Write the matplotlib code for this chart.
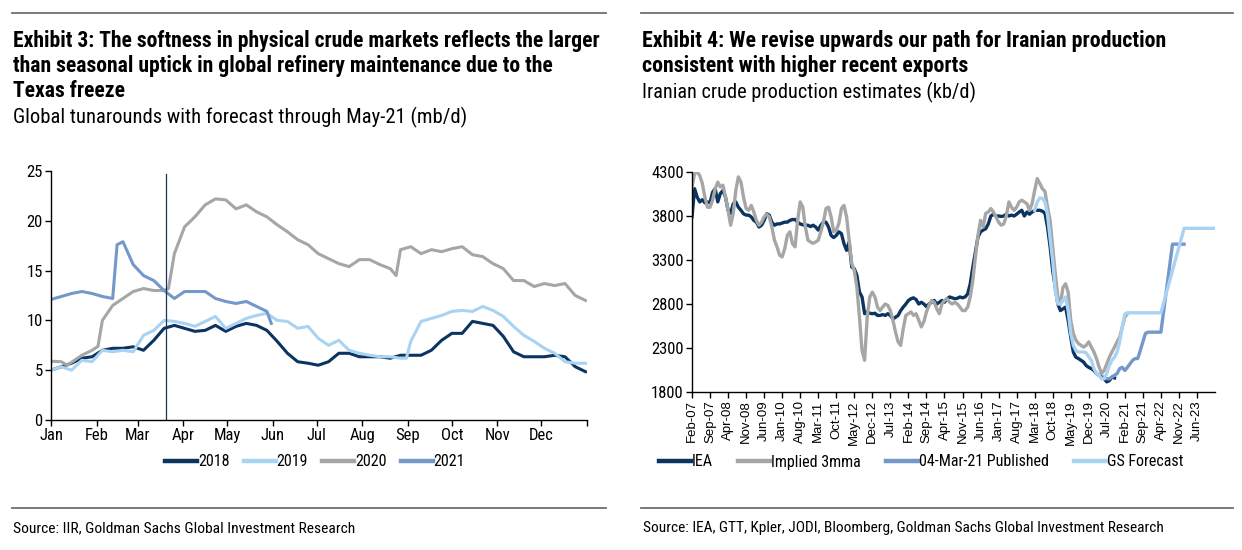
import matplotlib
matplotlib.use("Agg")
import matplotlib.pyplot as plt
from matplotlib.lines import Line2D
from matplotlib import font_manager as fm

# pick an installed condensed sans font
_avail = {}
for f in fm.fontManager.ttflist:
    _avail.setdefault(f.name, set()).add(f.weight if isinstance(f.weight, int) else 400)
_prefs = ['Liberation Sans Narrow', 'Arial Narrow', 'Roboto Condensed', 'Archivo Narrow',
          'PT Sans Narrow', 'Fira Sans Condensed', 'IBM Plex Sans Condensed', 'Asap Condensed',
          'Open Sans Condensed', 'Barlow Semi Condensed', 'Liberation Sans']
NARROW_NAME = 'Liberation Sans'
for p in _prefs:
    if p in _avail:
        NARROW_NAME = p
        break
NARROW = [NARROW_NAME, 'DejaVu Sans']
ARIAL = ['Liberation Sans', 'DejaVu Sans']

# ---------------- Left chart data (day of year, mb/d) ----------------
days_a = [0, 7, 14, 21, 28, 35, 42, 49, 56, 63, 70, 77, 84, 91, 98, 105, 112, 119,
          126, 133, 140, 147, 154, 161, 168, 175, 182, 189, 196, 203, 210, 217, 224,
          231, 238, 245, 252, 259, 266, 273, 280, 287, 294, 301, 308, 315, 322, 329,
          336, 343, 350, 357, 364]
t2018 = [5.0, 5.35, 5.7, 6.2, 6.35, 7.0, 7.2, 7.2, 7.35, 7.0, 8.0, 9.2, 9.5, 9.2, 8.9, 9.0, 9.5, 8.9,
         9.4, 9.7, 9.5, 9.0, 7.9, 6.7, 5.85, 5.7, 5.5, 5.85, 6.7, 6.7, 6.35, 6.35, 6.35,
         6.2, 6.5, 6.5, 6.5, 7.0, 8.0, 8.7, 8.7, 9.9, 9.7, 9.5, 8.4, 6.85, 6.35, 6.35,
         6.35, 6.5, 6.35, 5.35, 4.85]
days_b = [0, 7, 14, 21, 28, 35, 42, 49, 56, 63, 70, 77, 84, 91, 98, 105, 112, 119,
          126, 133, 140, 147, 154, 161, 168, 175, 182, 189, 196, 203, 210, 217, 224,
          231, 238, 242, 245, 252, 259, 266, 273, 280, 287, 294, 301, 308, 315, 322, 329,
          336, 343, 350, 357, 364]
t2019 = [5.0, 5.35, 5.0, 6.0, 5.85, 7.0, 6.85, 7.0, 6.85, 8.5, 9.0, 10.0, 9.9, 9.7, 9.4, 9.9, 10.4, 9.2,
         9.7, 10.2, 10.5, 10.7, 10.0, 9.9, 9.2, 9.4, 8.2, 7.5, 8.0, 7.0, 6.7, 6.5, 6.35,
         6.35, 6.2, 6.2, 7.9, 9.9, 10.2, 10.5, 10.9, 11.0, 10.9, 11.4, 11.0, 10.4, 9.4, 8.5, 7.9,
         7.2, 6.7, 5.85, 5.7, 5.7]
days_c = [0, 7, 11, 21, 28, 32, 35, 42, 49, 56, 63, 70, 77, 80, 84, 91, 98, 105, 112, 119,
          126, 133, 140, 147, 154, 161, 168, 175, 182, 189, 196, 203, 210, 217, 224,
          231, 235, 238, 245, 252, 259, 266, 273, 280, 287, 294, 301, 308, 315, 322, 329,
          336, 343, 350, 357, 364]
t2020 = [5.9, 5.85, 5.5, 6.5, 7.0, 7.4, 10.0, 11.5, 12.2, 12.9, 13.2, 13.0, 13.0, 13.2, 16.7, 19.4, 20.4, 21.6, 22.2, 22.1,
         21.2, 21.6, 20.9, 20.4, 19.6, 18.9, 18.1, 17.6, 16.7, 16.2, 15.7, 15.4, 16.1, 16.1, 15.6,
         15.2, 14.5, 17.1, 17.4, 16.7, 17.1, 16.9, 17.2, 17.4, 16.6, 16.4, 15.7, 15.2, 14.0, 14.0, 13.4,
         13.7, 13.5, 13.7, 12.5, 12.0]
days_d = [0, 7, 14, 21, 28, 35, 42, 45, 49, 56, 63, 70, 77, 84, 91, 98, 105, 112, 119,
          126, 133, 140, 147, 150]
t2021 = [12.1, 12.4, 12.7, 12.9, 12.7, 12.4, 12.2, 17.6, 17.9, 15.6, 14.5, 14.0, 13.0, 12.2, 12.9, 12.9, 12.9, 12.2, 11.9,
         11.7, 11.9, 11.4, 10.9, 9.7]
month_starts = [0, 31, 59, 90, 120, 151, 181, 212, 243, 273, 304, 334, 365]
month_labels = ['Jan', 'Feb', 'Mar', 'Apr', 'May', 'Jun', 'Jul', 'Aug', 'Sep', 'Oct', 'Nov', 'Dec', '']
cut_day = 78

# ---------------- Right chart data (months since Feb-07, kb/d) ----------------
iea = [3790, 4110, 4015, 3960, 3985, 3950, 3960, 3950, 4070, 4110, 3960, 4055, 4090, 4015, 3865, 3830,
       3940, 3960, 3900, 3865, 3825, 3810, 3810, 3790, 3750, 3730, 3675, 3695, 3750, 3825, 3810, 3730,
       3695, 3710, 3710, 3720, 3730, 3730, 3750, 3760, 3760, 3730, 3710, 3700, 3695, 3695, 3680, 3695,
       3675, 3640, 3695, 3730, 3730, 3675, 3580, 3555, 3580, 3620, 3600, 3485, 3410, 3505, 3220, 3200,
       3125, 2935, 2880, 2690, 2710, 2695, 2690, 2695, 2670, 2670, 2680, 2670, 2690, 2670, 2630, 2650,
       2670, 2725, 2765, 2800, 2840, 2860, 2870, 2850, 2800, 2820, 2800, 2770, 2800, 2820, 2840, 2800,
       2820, 2840, 2820, 2860, 2880, 2870, 2860, 2865, 2880, 2870, 2880, 2915, 3030, 3220, 3390, 3560,
       3620, 3640, 3655, 3710, 3800, 3820, 3800, 3800, 3795, 3800, 3820, 3800, 3810, 3800, 3820, 3845,
       3865, 3800, 3845, 3820, 3845, 3865, 3865, 3865, 3855, 3830, 3675, 3450, 3180, 2990, 2800, 2725,
       2745, 2765, 2615, 2425, 2255, 2195, 2180, 2160, 2140, 2100, 2080, 2065, 2045, 2010, 1990, 1970,
       1950, 1915, 1930, 1970, 1960]
implied = [4130, 4280, 4300, 4260, 4170, 4015, 3900, 3900, 3980, 4110, 4185, 4130, 4150, 4015, 3865, 3695,
           3830, 4090, 4245, 4185, 4015, 3885, 3865, 3920, 3845, 3750, 3695, 3730, 3790, 3820, 3790, 3675,
           3525, 3450, 3355, 3335, 3430, 3580, 3620, 3485, 3450, 3750, 3960, 3900, 3675, 3525, 3505, 3490,
           3505, 3525, 3620, 3730, 3885, 3900, 3790, 3620, 3640, 3715, 3885, 3920, 3790, 3525, 3260, 3180,
           2990, 2650, 2270, 2160, 2650, 2880, 2935, 2880, 2765, 2725, 2765, 2800, 2785, 2725, 2615, 2480,
           2370, 2330, 2520, 2670, 2690, 2710, 2670, 2690, 2615, 2540, 2600, 2710, 2785, 2840, 2820, 2745,
           2690, 2800, 2840, 2860, 2820, 2800, 2820, 2800, 2765, 2725, 2725, 2765, 2880, 3070, 3335, 3580,
           3750, 3675, 3830, 3845, 3885, 3845, 3790, 3730, 3695, 3710, 3800, 3960, 3900, 3865, 3900, 3960,
           3980, 3960, 3940, 3865, 3940, 4090, 4225, 4170, 4110, 4080, 3900, 3750, 3450, 3145, 2880, 2800,
           2990, 3030, 2935, 2615, 2465, 2390, 2350, 2330, 2310, 2330, 2370, 2310, 2255, 2180, 2085, 2010,
           2045, 2120, 2195, 2255, 2310, 2370, 2425, 2540, 2650, 2690]
pub_m = [160, 161, 162, 163, 164, 165, 166, 167, 168, 169, 170, 171, 172, 173, 174, 175, 176, 177,
         182, 186.5, 191]
pub_v = [1970, 1950, 1950, 1970, 1990, 2010, 2065, 2080, 2045, 2080, 2120, 2160, 2180, 2180, 2270, 2370,
         2465, 2480, 2480, 3480, 3480]
gs_m = [133, 134, 135, 136, 137, 138, 139, 140, 141, 142, 143, 144, 145, 146, 147, 148, 149, 150, 151,
        152, 153, 154, 155, 156, 157, 158, 159, 160, 161, 162, 163, 164, 165, 166, 167, 168, 169,
        182, 191, 203]
gs_v = [3865, 3960, 4005, 4000, 3960, 3810, 3545, 3290, 2950, 2800, 2800, 2840, 2880, 2725, 2465, 2330,
        2270, 2255, 2255, 2255, 2245, 2200, 2160, 2065, 2010, 1990, 1950, 1950, 2010, 2100, 2160, 2195,
        2255, 2370, 2540, 2685, 2700, 2700, 3660, 3660]
r_tick_labels = ['Feb-07', 'Sep-07', 'Apr-08', 'Nov-08', 'Jun-09', 'Jan-10', 'Aug-10', 'Mar-11',
                 'Oct-11', 'May-12', 'Dec-12', 'Jul-13', 'Feb-14', 'Sep-14', 'Apr-15', 'Nov-15',
                 'Jun-16', 'Jan-17', 'Aug-17', 'Mar-18', 'Oct-18', 'May-19', 'Dec-19', 'Jul-20',
                 'Feb-21', 'Sep-21', 'Apr-22', 'Nov-22', 'Jun-23']

NAVY = '#0b3461'
LIGHT = '#a9d3f3'
GREY = '#a6a6a6'
MED = '#7398c9'

W, H = 1242, 550
fig = plt.figure(figsize=(W / 100, H / 100), dpi=100)


def fx(px):
    return px / W


def fy(py):
    return 1 - py / H


# rules
for x0, x1 in [(12, 606), (641, 1233)]:
    fig.add_artist(Line2D([fx(x0), fx(x1)], [fy(13), fy(13)], color='#6e6e6e', lw=1.3))
    fig.add_artist(Line2D([fx(x0), fx(x1)], [fy(508), fy(508)], color='#6e6e6e', lw=1.3))

fitted = []


def fit_text(x, y, s, target_w, size, bold=False):
    t = fig.text(fx(x), fy(y), s, fontsize=size, fontweight='bold' if bold else 'normal',
                 family=NARROW, va='baseline', color='black')
    fitted.append((t, target_w, size))
    return t


fit_text(13, 47, 'Exhibit 3: The softness in physical crude markets reflects the larger', 587, 15, True)
fit_text(13, 72, 'than seasonal uptick in global refinery maintenance due to the', None, 15, True)
fit_text(13, 97, 'Texas freeze', None, 15, True)
fit_text(13, 123, 'Global tunarounds with forecast through May-21 (mb/d)', 457, 14)
fit_text(642, 47, 'Exhibit 4: We revise upwards our path for Iranian production', 525, 15, True)
fit_text(642, 72, 'consistent with higher recent exports', None, 15, True)
fit_text(642, 98, 'Iranian crude production estimates (kb/d)', 335, 14)
fit_text(13, 532, 'Source: IIR, Goldman Sachs Global Investment Research', 340, 11)
fit_text(643, 532, 'Source: IEA, GTT, Kpler, JODI, Bloomberg, Goldman Sachs Global Investment Research', 520, 11)

fig.canvas.draw()
r = fig.canvas.get_renderer()
scale = 1.0
for t, tw, size in fitted:
    if tw is not None:
        w = t.get_window_extent(r).width
        scale = tw / w
    t.set_fontsize(size * scale)

# ---------------- Left chart ----------------
axL = fig.add_axes([fx(51), fy(420), fx(587) - fx(51), fy(171) - fy(420)])
axL.plot(days_a, t2018, color=NAVY, lw=2.2, label='2018')
axL.plot(days_b, t2019, color=LIGHT, lw=2.2, label='2019')
axL.plot(days_c, t2020, color=GREY, lw=2.2, label='2020')
axL.plot(days_d, t2021, color=MED, lw=2.2, label='2021')
axL.axvline(cut_day, ymin=0, ymax=0.988, color='#1c3557', lw=0.9)
axL.set_xlim(0, 365)
axL.set_ylim(0, 25)
axL.set_yticks([0, 5, 10, 15, 20, 25])
axL.set_xticks(month_starts)
axL.set_xticklabels(month_labels)
for s in ['top', 'right']:
    axL.spines[s].set_visible(False)
for s in ['left', 'bottom']:
    axL.spines[s].set_linewidth(1.0)
axL.tick_params(axis='both', direction='out', length=4, width=1.0, labelsize=12, pad=2)
for lab in axL.get_xticklabels() + axL.get_yticklabels():
    lab.set_family(NARROW)
legL = axL.legend(loc='center', bbox_to_anchor=(fx(315), fy(462)), bbox_transform=fig.transFigure,
                  ncol=4, frameon=False, handlelength=2.0, handletextpad=0.05,
                  columnspacing=0.9, prop={'family': NARROW, 'size': 11.5})
for ln in legL.get_lines():
    ln.set_linewidth(3.2)

# ---------------- Right chart ----------------
axR = fig.add_axes([fx(692), fy(392), fx(1215) - fx(692), fy(172) - fy(392)])
axR.plot(range(len(iea)), iea, color=NAVY, lw=2.4, label='IEA')
axR.plot(range(len(implied)), implied, color=GREY, lw=2.4, label='Implied 3mma')
axR.plot(pub_m, pub_v, color=MED, lw=2.4, label='04-Mar-21 Published')
axR.plot(gs_m, gs_v, color=LIGHT, lw=2.4, label='GS Forecast')
axR.set_xlim(0, 203)
axR.set_ylim(1800, 4300)
axR.set_yticks([1800, 2300, 2800, 3300, 3800, 4300])
axR.set_xticks(list(range(0, 7 * len(r_tick_labels), 7)))
axR.set_xticklabels(r_tick_labels, rotation=90, family=ARIAL, fontsize=9.5)
for s in ['top', 'right']:
    axR.spines[s].set_visible(False)
for s in ['left', 'bottom']:
    axR.spines[s].set_linewidth(1.0)
axR.tick_params(axis='both', direction='out', length=4, width=1.0, pad=2)
axR.tick_params(axis='y', labelsize=12)
for lab in axR.get_yticklabels():
    lab.set_family(NARROW)
legR = axR.legend(loc='center', bbox_to_anchor=(fx(921), fy(462)), bbox_transform=fig.transFigure,
                  ncol=4, frameon=False, handlelength=2.0, handletextpad=0.05,
                  columnspacing=1.6, prop={'family': NARROW, 'size': 11.5})
for ln in legR.get_lines():
    ln.set_linewidth(3.2)

fig.savefig('out.png', dpi=100)
